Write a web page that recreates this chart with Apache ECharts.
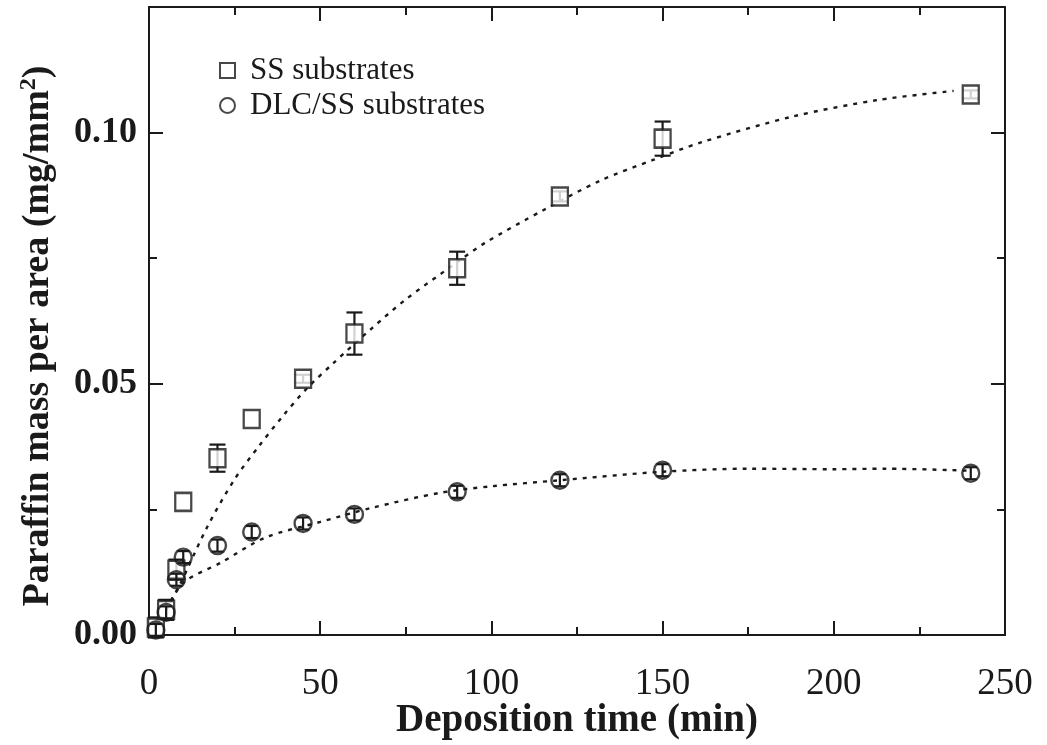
<!DOCTYPE html>
<html>
<head>
<meta charset="utf-8">
<title>Paraffin deposition</title>
<script src="https://cdn.jsdelivr.net/npm/echarts@6/dist/echarts.min.js"></script>
<style>
  html, body { margin: 0; padding: 0; background: #fff; }
  #chart { width: 1047px; height: 745px; }
</style>
</head>
<body>
<div id="chart"></div>
<script>
// Measured paraffin mass per area (mg/mm^2) versus deposition time (min)
const timeSS  = [2, 5, 8, 10, 20, 30, 45, 60, 90, 120, 150, 240];
const massSS  = [0.0015, 0.0050, 0.0130, 0.0265, 0.0352, 0.0430, 0.0510, 0.0600, 0.0730, 0.0873, 0.0988, 0.1076];
const errSS   = [0.0020, 0.0020, 0.0020, 0, 0.0027, 0, 0.0008, 0.0042, 0.0033, 0.0010, 0.0034, 0.0008];

const timeDLC = [2, 5, 8, 10, 20, 30, 45, 60, 90, 120, 150, 240];
const massDLC = [0.0010, 0.0045, 0.0110, 0.0155, 0.0178, 0.0205, 0.0222, 0.0240, 0.0285, 0.0308, 0.0328, 0.0322];
const errDLC  = [0.0012, 0.0012, 0.0012, 0.0012, 0.0012, 0.0012, 0.0012, 0.0012, 0.0012, 0.0012, 0.0012, 0.0012];

// Fitted trend curves (dotted)
const fitSSTime  = [5, 9, 17, 25, 32, 39, 46, 54, 65, 75, 90, 98, 115, 132, 147, 161, 188, 213, 235];
const fitSSMass  = [0.0050, 0.0100, 0.0215, 0.0310, 0.0375, 0.0435, 0.0490, 0.0542, 0.0610, 0.0668, 0.0742, 0.0780, 0.0845, 0.0905, 0.0945, 0.0980, 0.1032, 0.1065, 0.1083];
const fitDLCTime = [5, 10, 21, 34, 50, 65, 85, 100, 120, 150, 175, 200, 215, 240];
const fitDLCMass = [0.0050, 0.0104, 0.0144, 0.0194, 0.0225, 0.0253, 0.0283, 0.0296, 0.0308, 0.0325, 0.0331, 0.0330, 0.0331, 0.0327];

const seriesNames = ['SS substrates', 'DLC/SS substrates'];
const xTitle = 'Deposition time (min)';
const yTitle = 'Paraffin mass per area (mg/mm{sup|2})';

const INK = '#1a1a1a';
const SERIF = '"Liberation Serif", "Times New Roman", serif';

const zip = (a, b) => a.map((v, i) => [v, b[i]]);
const zip3 = (a, b, c) => a.map((v, i) => [v, b[i], c[i]]);

function errorBars(capWidth) {
  return function (params, api) {
    const x = api.value(0), y = api.value(1), e = api.value(2);
    if (!e) return null;
    const top = api.coord([x, y + e]);
    const bot = api.coord([x, y - e]);
    const hw = capWidth / 2;
    const style = { stroke: INK, lineWidth: 2.2 };
    return {
      type: 'group',
      children: [
        { type: 'line', shape: { x1: top[0], y1: top[1], x2: bot[0], y2: bot[1] }, style },
        { type: 'line', shape: { x1: top[0] - hw, y1: top[1], x2: top[0] + hw, y2: top[1] }, style },
        { type: 'line', shape: { x1: bot[0] - hw, y1: bot[1], x2: bot[0] + hw, y2: bot[1] }, style }
      ]
    };
  };
}

function xAxisDef(position, interval, major) {
  return {
    type: 'value', min: 0, max: 250, interval, position,
    axisLine: { show: major, onZero: false, lineStyle: { color: INK, width: 2 } },
    axisTick: { show: true, inside: true, length: major ? 14 : 8, lineStyle: { color: INK, width: 2 } },
    axisLabel: {
      show: major && position === 'bottom', margin: 31,
      fontFamily: SERIF, fontSize: 37, color: INK
    },
    splitLine: { show: false }
  };
}

function yAxisDef(position, interval, major) {
  return {
    type: 'value', min: 0, max: 0.125, interval, position,
    axisLine: { show: major, onZero: false, lineStyle: { color: INK, width: 2 } },
    axisTick: { show: true, inside: true, length: major ? 14 : 8, lineStyle: { color: INK, width: 2 } },
    axisLabel: {
      show: major && position === 'left', margin: 12,
      fontFamily: SERIF, fontSize: 36, fontWeight: 'bold', color: INK,
      formatter: v => {
        const k = v / 0.05;
        return Math.abs(k - Math.round(k)) < 1e-6 ? v.toFixed(2) : '';
      }
    },
    splitLine: { show: false }
  };
}

const xAxes = [
  xAxisDef('bottom', 50, true),
  xAxisDef('bottom', 25, false),
  xAxisDef('top', 50, true),
  xAxisDef('top', 25, false)
];
xAxes[0].name = xTitle;
xAxes[0].nameLocation = 'middle';
xAxes[0].nameGap = 66;
xAxes[0].nameMoveOverlap = false;
xAxes[0].nameTextStyle = { fontFamily: SERIF, fontSize: 39, fontWeight: 'bold', color: INK };

const yAxes = [
  yAxisDef('left', 0.05, true),
  yAxisDef('left', 0.025, false),
  yAxisDef('right', 0.05, true),
  yAxisDef('right', 0.025, false)
];
yAxes[0].name = yTitle;
yAxes[0].nameLocation = 'middle';
yAxes[0].nameRotate = 90;
yAxes[0].nameGap = 90;
yAxes[0].nameMoveOverlap = false;
yAxes[0].nameTextStyle = {
  fontFamily: SERIF, fontSize: 38, fontWeight: 'bold', color: INK,
  padding: [0, 30, 0, 0],
  rich: {
    sup: { fontFamily: SERIF, fontSize: 24, fontWeight: 'bold', color: INK, verticalAlign: 'top', padding: [0, 0, 18, 0] }
  }
};

const chart = echarts.init(document.getElementById('chart'), null, { renderer: 'canvas' });
chart.setOption({
  backgroundColor: '#fff',
  animation: false,
  grid: { left: 149, right: 42, top: 7, bottom: 110, containLabel: false, outerBoundsMode: 'none' },
  legend: {
    orient: 'vertical', left: 214, top: 50,
    itemWidth: 15, itemHeight: 15, itemGap: 4,
    data: seriesNames,
    textStyle: { fontFamily: SERIF, fontSize: 31, color: INK, padding: [0, 0, 0, 10] }
  },
  xAxis: xAxes,
  yAxis: yAxes,
  series: [
    {
      name: 'fitSS', type: 'line', data: zip(fitSSTime, fitSSMass),
      smooth: 0.3, showSymbol: false, silent: true,
      lineStyle: { color: INK, width: 2.4, type: [4, 6] }, z: 1
    },
    {
      name: 'fitDLC', type: 'line', data: zip(fitDLCTime, fitDLCMass),
      smooth: 0.3, showSymbol: false, silent: true,
      lineStyle: { color: INK, width: 2.4, type: [4, 6] }, z: 1
    },
    {
      name: 'errSS', type: 'custom', renderItem: errorBars(16),
      data: zip3(timeSS, massSS, errSS), z: 2, silent: true
    },
    {
      name: seriesNames[0], type: 'scatter', symbol: 'rect', symbolSize: [16, 18],
      data: zip(timeSS, massSS),
      itemStyle: { color: '#fff', borderColor: INK, borderWidth: 2.4 }, z: 3
    },
    {
      name: seriesNames[1], type: 'scatter', symbol: 'circle', symbolSize: 17,
      data: zip(timeDLC, massDLC),
      itemStyle: { color: 'rgba(255,255,255,0)', borderColor: INK, borderWidth: 2.4 }, z: 3
    },
    {
      name: 'errDLC', type: 'custom', renderItem: errorBars(12),
      data: zip3(timeDLC, massDLC, errDLC), z: 4, silent: true
    }
  ]
});
</script>
</body>
</html>
